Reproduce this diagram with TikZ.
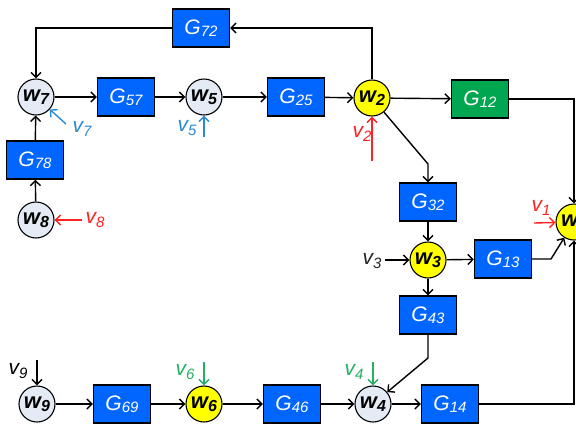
\documentclass[tikz,border=0pt]{standalone}
\usepackage{fontspec}
\setmainfont{Liberation Sans}
\usetikzlibrary{arrows.meta}
\definecolor{gblue}{HTML}{0066FF}
\definecolor{ggreen}{HTML}{00A650}
\definecolor{wyel}{HTML}{FFFF00}
\definecolor{wlight}{HTML}{E4EBF5}
\definecolor{vred}{HTML}{FF2222}
\definecolor{vblue}{HTML}{2A8AD2}
\definecolor{vgreen}{HTML}{22B063}
\newcommand{\Gl}[1]{{\fontsize{21}{21}\selectfont\itshape G\raisebox{-0.12em}{\fontsize{15}{15}\selectfont #1}}}
\newcommand{\Wl}[1]{{\fontsize{22}{22}\selectfont\bfseries\itshape w\raisebox{-0.14em}{\fontsize{16}{16}\selectfont #1}}}
\newcommand{\Vl}[1]{{\fontsize{21}{21}\selectfont\itshape v\raisebox{-0.15em}{\fontsize{15}{15}\selectfont #1}}}
\tikzset{
  gbox/.style={draw=black, line width=1.4pt, fill=gblue, text=white, minimum width=57pt, minimum height=38pt, inner sep=0pt},
  gboxg/.style={gbox, fill=ggreen},
  wcirc/.style={circle, draw=black, line width=1.1pt, fill=wlight, minimum size=36pt, inner sep=0pt},
  wcircy/.style={wcirc, fill=wyel},
  conn/.style={draw=black, line width=1.4pt, -{Straight Barb[length=5pt,width=10pt,line width=1.4pt]}},
  vin/.style={line width=1.4pt, -{Straight Barb[length=5pt,width=10pt,line width=1.4pt]}},
  vlab/.style={inner sep=0pt}
}
\begin{document}
\begin{tikzpicture}[x=1pt,y=-1pt]
\useasboundingbox (0,0) rectangle (576,424);
\clip (0,0) rectangle (576,424);
% boxes
\node[gbox] (G72) at (201,28) {\Gl{72}};
\node[gbox] (G57) at (126,97) {\Gl{57}};
\node[gbox] (G25) at (296,97) {\Gl{25}};
\node[gboxg] (G12) at (480,99) {\Gl{12}};
\node[gbox] (G78) at (35,160) {\Gl{78}};
\node[gbox] (G32) at (428,202) {\Gl{32}};
\node[gbox] (G13) at (503,259) {\Gl{13}};
\node[gbox] (G43) at (428,315) {\Gl{43}};
\node[gbox] (G69) at (122,404) {\Gl{69}};
\node[gbox] (G46) at (292,404) {\Gl{46}};
\node[gbox] (G14) at (450,404) {\Gl{14}};
% circles
\node[wcirc] (w7) at (36,97) {\Wl{7}};
\node[wcirc] (w5) at (204,97) {\Wl{5}};
\node[wcircy] (w2) at (372,98) {\Wl{2}};
\node[wcirc] (w8) at (36,220) {\Wl{8}};
\node[wcircy] (w3) at (428,260) {\Wl{3}};
\node[wcircy] (w1) at (574,222) {\Wl{1}};
\node[wcirc] (w9) at (37,404) {\Wl{9}};
\node[wcircy] (w6) at (204,404) {\Wl{6}};
\node[wcirc] (w4) at (373,404) {\Wl{4}};
% bend / source coordinates
\coordinate (b32) at (428,164);
\coordinate (b13) at (551,259);
\coordinate (b43) at (428,358);
\coordinate (s7) at (66,124);
\coordinate (s5) at (204,137);
\coordinate (s2) at (372,161);
\coordinate (s8) at (82,220);
\coordinate (s1) at (534,223);
\coordinate (s3) at (385,260);
\coordinate (s4) at (373,362);
\coordinate (s6) at (204,362);
\coordinate (s9) at (37,360);
% labels
\node[vlab, text=vblue] (l7) at (82,129) {\Vl{7}};
\node[vlab, text=vblue] (l5) at (187,128) {\Vl{5}};
\node[vlab, text=vred] (l2) at (362,134) {\Vl{2}};
\node[vlab, text=vred] (l8) at (95,220) {\Vl{8}};
\node[vlab, text=vred] (l1) at (541,208) {\Vl{1}};
\node[vlab, text=black!85] (l3) at (372,261) {\Vl{3}};
\node[vlab, text=vgreen] (l4) at (354,372) {\Vl{4}};
\node[vlab, text=vgreen] (l6) at (185,372) {\Vl{6}};
\node[vlab, text=black] (l9) at (18,371) {\Vl{9}};
% connectors
\draw[conn] (w7) -- (G57);
\draw[conn] (G57) -- (w5);
\draw[conn] (w5) -- (G25);
\draw[conn] (G25) -- (w2);
\draw[conn] (w2) -- (G12);
\draw[conn] (G12.east) -| (w1.north);
\draw[conn] (G14.east) -| (w1.south);
\draw[conn] (w2) |- (G72);
\draw[conn] (G72) -| (w7);
\draw[conn] (w8) -- (G78);
\draw[conn] (G78) -- (w7);
\draw[conn] (w2) -- (b32) -- (G32);
\draw[conn] (G32) -- (w3);
\draw[conn] (w3) -- (G13);
\draw[conn] (w3) -- (G43);
\draw[conn] (G13.east) -- (b13) -- (w1);
\draw[conn] (G43) -- (b43) -- (w4);
\draw[conn] (w9) -- (G69);
\draw[conn] (G69) -- (w6);
\draw[conn] (w6) -- (G46);
\draw[conn] (G46) -- (w4);
\draw[conn] (w4) -- (G14);
% external inputs
\draw[vin, vblue] (s7) -- (w7);
\draw[vin, vblue] (s5) -- (w5);
\draw[vin, vred] (s2) -- (w2);
\draw[vin, vred] (s8) -- (w8);
\draw[vin, vred] (s1) -- (w1);
\draw[vin, black] (s3) -- (w3);
\draw[vin, vgreen] (s4) -- (w4);
\draw[vin, vgreen] (s6) -- (w6);
\draw[vin, black] (s9) -- (w9);
\end{tikzpicture}
\end{document}
